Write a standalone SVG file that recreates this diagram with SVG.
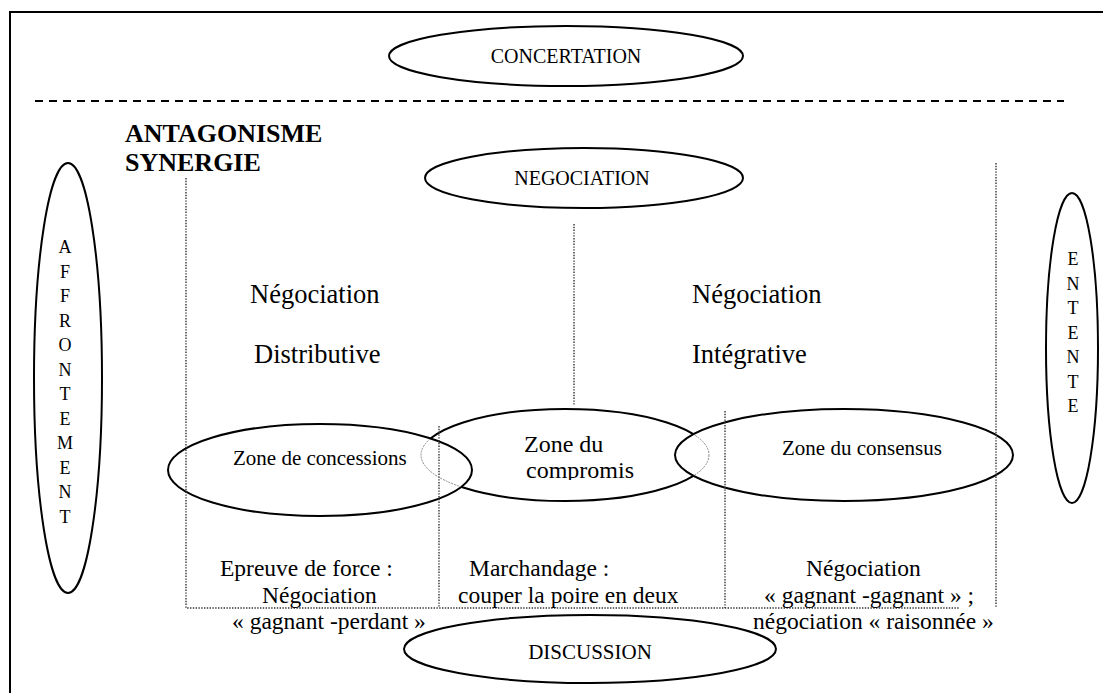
<svg xmlns="http://www.w3.org/2000/svg" width="1103" height="693" viewBox="0 0 1103 693">
<style>
.e{fill:none;stroke:#000;stroke-width:2}
.ew{fill:#fff;stroke:#000;stroke-width:2}
.d{fill:none;stroke:#333;stroke-width:1.4;stroke-dasharray:1.4 1.4}
.m{text-anchor:middle}
</style>
<defs>
<clipPath id="nb"><ellipse cx="320" cy="470" rx="151" ry="45"/><ellipse cx="844" cy="455" rx="168" ry="45"/></clipPath>
<clipPath id="cz"><rect x="400" y="400" width="300" height="80"/></clipPath>
</defs>
<rect width="1103" height="693" fill="#fff"/>
<path d="M10,693 V12 H1103" fill="none" stroke="#000" stroke-width="2"/>
<line x1="35" y1="101" x2="1064" y2="101" stroke="#000" stroke-width="2" stroke-dasharray="8 6"/>
<g font-family="'Liberation Serif', 'DejaVu Serif', serif" fill="#000">
<g id="labels">
<text x="125" y="142" font-size="26" font-weight="bold">ANTAGONISME</text>
<text x="125" y="171" font-size="26" font-weight="bold">SYNERGIE</text>
</g>
<g id="concertation">
<ellipse class="e" cx="566" cy="56" rx="177" ry="30"/>
<text class="m" x="566" y="63" font-size="20">CONCERTATION</text>
</g>
<g id="negociation">
<ellipse class="e" cx="584" cy="178" rx="159" ry="30"/>
<text class="m" x="582" y="185" font-size="20">NEGOCIATION</text>
</g>
<g id="affrontement">
<ellipse class="e" cx="68" cy="378" rx="34" ry="215"/>
<text class="m" font-size="18"><tspan x="65" y="253">A</tspan><tspan x="65" y="277.5">F</tspan><tspan x="65" y="302">F</tspan><tspan x="65" y="326.5">R</tspan><tspan x="65" y="351">O</tspan><tspan x="65" y="375.5">N</tspan><tspan x="65" y="400">T</tspan><tspan x="65" y="424.5">E</tspan><tspan x="65" y="449">M</tspan><tspan x="65" y="473.5">E</tspan><tspan x="65" y="498">N</tspan><tspan x="65" y="522.5">T</tspan></text>
</g>
<g id="entente">
<ellipse class="e" cx="1072" cy="348" rx="26" ry="155"/>
<text class="m" font-size="18"><tspan x="1073" y="265">E</tspan><tspan x="1073" y="289.5">N</tspan><tspan x="1073" y="314">T</tspan><tspan x="1073" y="338.5">E</tspan><tspan x="1073" y="363">N</tspan><tspan x="1073" y="387.5">T</tspan><tspan x="1073" y="412">E</tspan></text>
</g>
<g id="distributive">
<text x="250" y="303" font-size="26.5">Négociation</text>
<text x="254" y="363" font-size="26.5">Distributive</text>
</g>
<g id="integrative">
<text x="692" y="303" font-size="26.5">Négociation</text>
<text x="692" y="363" font-size="26.5">Intégrative</text>
</g>
<g id="zone-compromis">
<ellipse class="e" cx="565" cy="455" rx="144" ry="46"/>
</g>
<g id="zone-concessions">
<ellipse class="ew" cx="320" cy="470" rx="152" ry="46"/>
<text x="233" y="465" font-size="21">Zone de concessions</text>
</g>
<g id="zone-consensus">
<ellipse class="ew" cx="844" cy="455" rx="169" ry="46"/>
<text x="782" y="455" font-size="21">Zone du consensus</text>
</g>
<g id="zone-compromis-overlap">
<ellipse cx="565" cy="455" rx="144" ry="46" fill="none" stroke="#888" stroke-width="1" stroke-dasharray="2 1" clip-path="url(#nb)"/>
<g clip-path="url(#cz)">
<text x="524" y="452" font-size="24">Zone du</text>
<text x="526" y="478" font-size="24">compromis</text>
</g>
</g>
<g id="connectors">
<path class="d" d="M186,178 V608 H960"/>
<line class="d" x1="996" y1="163" x2="996" y2="608"/>
<line class="d" x1="574" y1="224" x2="574" y2="406"/>
<line class="d" x1="439" y1="426" x2="439" y2="608"/>
<line class="d" x1="725" y1="411" x2="725" y2="608"/>
</g>
<g id="bottom-text">
<text x="220" y="576" font-size="23.5">Epreuve de force :</text>
<text x="262" y="603" font-size="23.5">Négociation</text>
<text x="232" y="629" font-size="23.5">« gagnant -perdant »</text>
<text x="469" y="576" font-size="23.5">Marchandage :</text>
<text x="458" y="603" font-size="23.5">couper la poire en deux</text>
<text x="806" y="576" font-size="23.5">Négociation</text>
<text x="764" y="603" font-size="23.5">« gagnant -gagnant » ;</text>
<text x="753" y="629" font-size="23.5">négociation « raisonnée »</text>
</g>
<g id="discussion">
<ellipse class="e" cx="590" cy="649" rx="186" ry="34"/>
<text class="m" x="590" y="659" font-size="21">DISCUSSION</text>
</g>
</g>
</svg>
